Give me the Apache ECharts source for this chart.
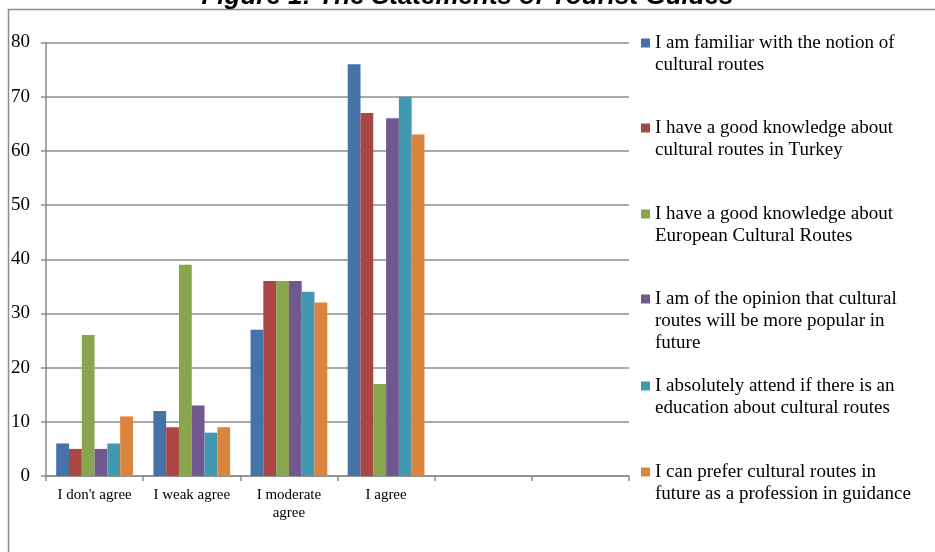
<!DOCTYPE html>
<html lang="en" style="height: 100%">
<head>
  <meta charset="utf-8">
</head>
<body style="height: 100%; margin: 0">
  <div id="container" style="width: 935px; height: 552px"></div>
  <script type="text/javascript" src="https://cdn.jsdelivr.net/npm/echarts@6/dist/echarts.min.js"></script>
  <script type="text/javascript">

    // categories on the x axis (last two are empty in the original)
    var categories = ["I don't agree", 'I weak agree', 'I moderate\nagree', 'I agree', '', ''];

    // legend / series names, wrapped like the original
    var seriesNames = [
      'I am familiar with the notion of\ncultural routes',
      'I have a good knowledge about\ncultural routes in Turkey',
      'I have a good knowledge about\nEuropean Cultural Routes',
      'I am of the opinion that cultural\nroutes will be more popular in\nfuture',
      'I absolutely attend if there is an\neducation about cultural routes',
      'I can prefer cultural routes in\nfuture as a profession in guidance'
    ];

    var familiar = [6, 12, 27, 76];
    var turkey = [5, 9, 36, 67];
    var european = [26, 39, 36, 17];
    var popular = [5, 13, 36, 66];
    var education = [6, 8, 34, 70];
    var profession = [11, 9, 32, 63];

    var colors = ['#4572A7', '#AA4643', '#89A54E', '#71588F', '#4198AF', '#DB843D'];

    var dom = document.getElementById('container');
    var myChart = echarts.init(dom, null, { renderer: 'canvas' });

    var valueSets = [familiar, turkey, european, popular, education, profession];

    // one legend per entry; blank lines on top keep the icon level with the first text line
    var legendCenters = [43, 128, 214, 299, 386, 472];
    var lh = 22;
    var legends = seriesNames.map(function (name, i) {
      var n = name.split('\n').length;
      return {
        data: [name],
        orient: 'vertical',
        left: 641,
        top: legendCenters[i] - (2 * n - 1) * lh / 2,
        padding: 0,
        itemWidth: 9,
        itemHeight: 9,
        icon: 'rect',
        selectedMode: false,
        formatter: function (s) {
          return new Array(n).join('\n') + s;
        },
        textStyle: {
          fontFamily: 'Liberation Serif',
          fontSize: 19,
          lineHeight: lh,
          color: '#000'
        }
      };
    });

    var series = seriesNames.map(function (name, i) {
      return {
        name: name,
        type: 'bar',
        data: valueSets[i],
        barGap: '0%',
        barCategoryGap: '21%',
        itemStyle: { color: colors[i] }
      };
    });

    var gray = '#8c8c8c';

    var option = {
      animation: false,
      color: colors,
      title: {
        text: 'Figure 1: The Statements of Tourist Guides',
        left: 'center',
        top: -16,
        padding: 0,
        textStyle: {
          fontFamily: 'Liberation Sans',
          fontWeight: 'bold',
          fontStyle: 'italic',
          fontSize: 26,
          color: '#000'
        }
      },
      graphic: [
        {
          type: 'rect',
          left: 6,
          top: 7,
          shape: { width: 1000, height: 600 },
          style: { fill: 'none', stroke: gray, lineWidth: 1.5 }
        }
      ],
      legend: legends,
      grid: {
        left: 46,
        right: 306,
        top: 42.5,
        bottom: 76
      },
      xAxis: {
        type: 'category',
        data: categories,
        axisLine: { lineStyle: { color: gray, width: 1.5 } },
        axisTick: { show: true, length: 5, alignWithLabel: false, lineStyle: { color: gray, width: 1.5 } },
        axisLabel: {
          interval: 0,
          margin: 10,
          fontFamily: 'Liberation Serif',
          fontSize: 15,
          lineHeight: 18,
          color: '#000'
        }
      },
      yAxis: {
        type: 'value',
        min: 0,
        max: 80,
        interval: 10,
        axisLine: { show: true, lineStyle: { color: gray, width: 1.5 } },
        axisTick: { show: true, length: 5, lineStyle: { color: gray, width: 1.5 } },
        splitLine: { lineStyle: { color: gray, width: 1.5 } },
        axisLabel: {
          margin: 16,
          fontFamily: 'Liberation Serif',
          fontSize: 19,
          color: '#000'
        }
      },
      series: series
    };

    myChart.setOption(option);

    window.addEventListener('resize', myChart.resize);

  </script>
</body>
</html>
